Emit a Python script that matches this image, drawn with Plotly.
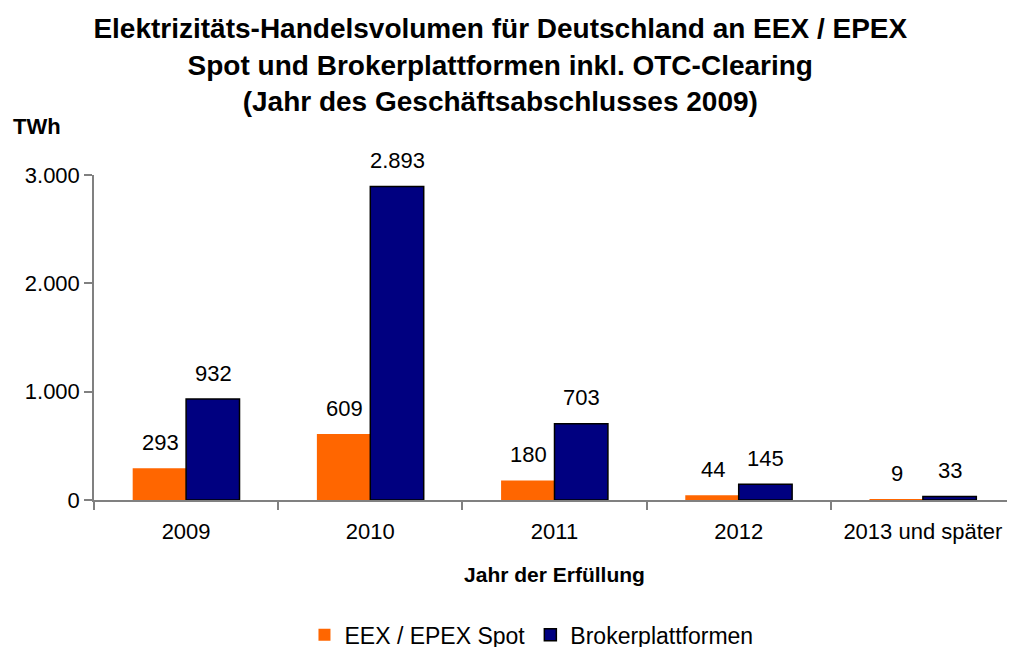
import plotly.graph_objects as go

years = ["2009", "2010", "2011", "2012", "2013 und später"]
eex_spot = [293, 609, 180, 44, 9]
broker = [932, 2893, 703, 145, 33]
y_ticks = [0, 1000, 2000, 3000]


def de(v):
    # German thousands separator
    return f"{v:,}".replace(",", ".")


pos = list(range(len(years)))

fig = go.Figure()
fig.add_trace(go.Bar(x=pos, y=eex_spot, name="EEX / EPEX Spot",
                     marker=dict(color="#FF6600", line=dict(width=0))))
fig.add_trace(go.Bar(x=pos, y=broker, name="Brokerplattformen",
                     marker=dict(color="#000080", line=dict(color="black", width=1.5))))

# value labels above the bars
for vals, shift in ((eex_spot, -26), (broker, 27)):
    for p, v in zip(pos, vals):
        fig.add_annotation(x=p, y=v, text=de(v), showarrow=False,
                           xshift=shift, yshift=26,
                           font=dict(size=22, color="black"))

fig.add_annotation(text="<b>TWh</b>", xref="paper", yref="paper", x=-0.09, y=1.148,
                   xanchor="left", yanchor="middle", showarrow=False,
                   font=dict(size=22, color="black"))

fig.update_layout(
    width=1015, height=647,
    paper_bgcolor="white", plot_bgcolor="white",
    font=dict(family="Liberation Sans, Arial, sans-serif", color="black"),
    title=dict(text="<b>Elektrizitäts-Handelsvolumen für Deutschland an EEX / EPEX<br>"
                    "Spot und Brokerplattformen inkl. OTC-Clearing<br>"
                    "(Jahr des Geschäftsabschlusses 2009)</b>",
               x=0.485, xanchor="center", y=0.953, yanchor="top",
               font=dict(size=28, color="black")),
    margin=dict(l=86, r=8, t=167, b=155, autoexpand=False),
    barmode="group", bargap=0.42, bargroupgap=0,
    showlegend=True,
    legend=dict(orientation="h", x=0.475, xanchor="center", y=-0.415, yanchor="middle",
                font=dict(size=23), traceorder="normal"),
    xaxis=dict(range=[-0.5, 4.5], tickvals=pos, ticktext=years,
               showline=True, linecolor="#808080", linewidth=1.5, showgrid=False,
               zeroline=False, ticks="", tickfont=dict(size=22), ticklabelstandoff=11,
               minor=dict(tickvals=[p - 0.5 for p in pos], ticks="outside", ticklen=8,
                          tickcolor="#808080", tickwidth=1.5, showgrid=False),
               title=dict(text="<b>Jahr der Erfüllung</b>", font=dict(size=21), standoff=24)),
    yaxis=dict(range=[0, 3000], tickvals=y_ticks, ticktext=[de(t) for t in y_ticks],
               showline=True, linecolor="#808080", linewidth=1.5, showgrid=False,
               ticks="outside", ticklen=8, tickcolor="#808080", tickwidth=1.5,
               zeroline=False, tickfont=dict(size=22)),
)

fig.write_html("out.html")
